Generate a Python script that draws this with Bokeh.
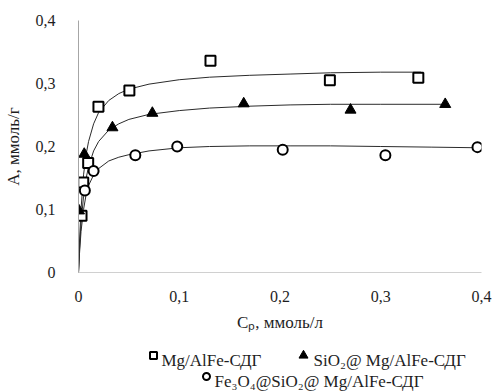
from bokeh.plotting import figure
from bokeh.models import Range1d, FixedTicker
from bokeh.layouts import column
from bokeh.embed import file_html
from bokeh.resources import INLINE
from bokeh.core.properties import value

# Measured adsorption points (C_p, mmol/L ; A, mmol/g)
ldh_c = [0.003, 0.0047, 0.0096, 0.0198, 0.0505, 0.131, 0.2495, 0.3373]
ldh_a = [0.090, 0.143, 0.174, 0.263, 0.289, 0.336, 0.305, 0.309]

sio2_c = [0.0005, 0.0057, 0.0337, 0.0733, 0.164, 0.270, 0.364]
sio2_a = [0.098, 0.188, 0.230, 0.253, 0.268, 0.258, 0.267]

fe_c = [0.0063, 0.015, 0.0564, 0.098, 0.2027, 0.3046, 0.396]
fe_a = [0.130, 0.161, 0.186, 0.200, 0.195, 0.186, 0.199]

# Isotherm trend curves
ldh_fit_c = [0, 0.001, 0.0025, 0.005, 0.0075, 0.01, 0.015, 0.02, 0.03, 0.04,
             0.05, 0.07, 0.1, 0.13, 0.17, 0.21, 0.25, 0.3, 0.34]
ldh_fit_a = [0, 0.05, 0.10, 0.155, 0.187, 0.208, 0.236, 0.254, 0.273, 0.284,
             0.291, 0.299, 0.306, 0.310, 0.313, 0.315, 0.317, 0.318, 0.318]

sio2_fit_c = [0, 0.001, 0.0025, 0.005, 0.0075, 0.01, 0.015, 0.02, 0.03, 0.04,
              0.05, 0.07, 0.1, 0.13, 0.17, 0.21, 0.25, 0.3, 0.365]
sio2_fit_a = [0, 0.037, 0.078, 0.121, 0.149, 0.168, 0.193, 0.208, 0.226, 0.236,
              0.243, 0.251, 0.257, 0.261, 0.264, 0.266, 0.267, 0.267, 0.267]

fe_fit_c = [0, 0.001, 0.0025, 0.005, 0.0075, 0.01, 0.015, 0.02, 0.03, 0.04,
            0.05, 0.07, 0.1, 0.13, 0.17, 0.21, 0.25, 0.3, 0.35, 0.396]
fe_fit_a = [0, 0.03, 0.065, 0.10, 0.123, 0.138, 0.155, 0.165, 0.177, 0.183,
            0.187, 0.193, 0.198, 0.200, 0.201, 0.201, 0.201, 0.200, 0.199, 0.198]

ticks = [0, 0.1, 0.2, 0.3, 0.4]
tick_labels = ["0", "0,1", "0,2", "0,3", "0,4"]

series_names = ["Mg/AlFe-СДГ", "SiO₂@ Mg/AlFe-СДГ", "Fe₃O₄@SiO₂@ Mg/AlFe-СДГ"]
x_title = "Cₚ, ммоль/л"
y_title = "А, ммоль/г"

FONT = "Liberation Serif"
INK = "#1e1e1e"

p = figure(width=492, height=336, output_backend="svg", toolbar_location=None,
           x_range=Range1d(0, 0.4), y_range=Range1d(0, 0.4),
           min_border_left=77, min_border_right=11, min_border_top=20,
           min_border_bottom=64)
p.outline_line_color = None
p.grid.visible = False

for ax in (p.xaxis[0], p.yaxis[0]):
    ax.ticker = FixedTicker(ticks=ticks)
    ax.major_label_overrides = dict(zip(ticks, tick_labels))
    ax.major_tick_line_color = None
    ax.minor_tick_line_color = None
    ax.major_label_text_font = FONT
    ax.major_label_text_font_size = "16px"
    ax.major_label_text_color = INK
    ax.axis_label_text_font = FONT
    ax.axis_label_text_font_size = "17px"
    ax.axis_label_text_font_style = "normal"
    ax.axis_label_text_color = INK

p.xaxis.axis_label = x_title
p.yaxis.axis_label = y_title
p.xaxis.axis_line_color = "#d0d0d0"
p.yaxis.axis_line_color = "#a6a6a6"
p.xaxis.major_label_standoff = 12
p.xaxis.axis_label_standoff = 8
p.yaxis.major_label_standoff = 17
p.yaxis.axis_label_standoff = 10

CURVE = "#2b2b2b"
p.line(ldh_fit_c, ldh_fit_a, line_color=CURVE, line_width=1)
p.line(sio2_fit_c, sio2_fit_a, line_color=CURVE, line_width=1)
p.line(fe_fit_c, fe_fit_a, line_color=CURVE, line_width=1)

p.scatter(ldh_c, ldh_a, marker="square", size=10, fill_color="white",
          line_color="black", line_width=2)
p.scatter(sio2_c, sio2_a, marker="triangle", size=11, fill_color="black",
          line_color="black", line_width=1)
p.scatter(fe_c, fe_a, marker="circle", size=10, fill_color="white",
          line_color="black", line_width=2)

# Legend strip below the chart; its frame spans pixels 0..492 horizontally
# and 0..56 vertically (y grows downward).
leg = figure(width=492, height=56, output_backend="svg", toolbar_location=None,
             x_range=Range1d(0, 492), y_range=Range1d(56, 0),
             min_border=0, x_axis_type=None, y_axis_type=None)
leg.outline_line_color = None
leg.grid.visible = False

leg.scatter([153], [19], marker="square", size=7, fill_color="white",
            line_color="black", line_width=2)
leg.scatter([303], [19], marker="triangle", size=9, fill_color="black",
            line_color="black", line_width=1)
leg.scatter([206], [40], marker="circle", size=7, fill_color="white",
            line_color="black", line_width=2)

leg.text(x=[161, 313, 214], y=[24, 24, 45], text=series_names,
         text_font=value(FONT), text_font_size="17px", text_color=INK,
         text_baseline="alphabetic", text_align="left")

# Place the two figures independently so their frames are not aligned.
layout = column(p, leg, spacing=0)
leg.align = "start"
p.frame_align = False
leg.frame_align = False
open("out.html", "w").write(file_html(layout, INLINE))
